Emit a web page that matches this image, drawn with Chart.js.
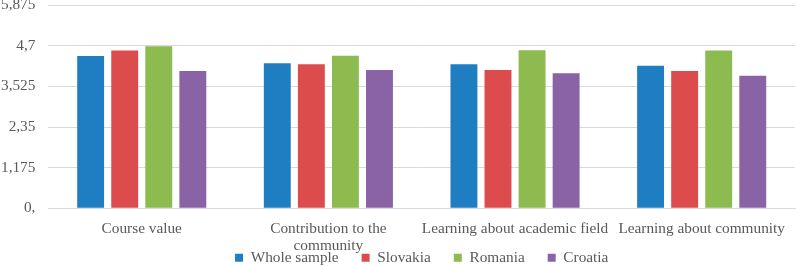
<!DOCTYPE html>
<html>
<head>
<meta charset="utf-8">
<script src="https://cdn.jsdelivr.net/npm/chart.js@4/dist/chart.umd.min.js"></script>
<style>
  html, body { margin: 0; padding: 0; background: #fff; }
  #wrap { width: 796px; height: 266px; position: relative; }
</style>
</head>
<body>
<div id="wrap"><canvas id="chart"></canvas></div>
<script>
// カテゴリと系列
var categories = ["Course value", ["Contribution to the", "community"], "Learning about academic field", "Learning about community"];
var seriesNames = ["Whole sample", "Slovakia", "Romania", "Croatia"];
var wholeSample = [4.40, 4.19, 4.16, 4.12];
var slovakia = [4.56, 4.16, 4.00, 3.97];
var romania = [4.68, 4.41, 4.57, 4.56];
var croatia = [3.97, 4.00, 3.90, 3.83];
// 目盛りラベル（元の図の表記のまま）
var yTickLabels = ["0,", "1,175", "2,35", "3,525", "4,7", "5,875"];

var colors = ["#1f7ec2", "#dd4c4c", "#8dbb4f", "#8a63a6"];
var textColor = "#595959";
var serif = "'Liberation Serif', 'Times New Roman', serif";
var fontSize = 15.3;
var legendPad = 23;

// 凡例：高さを詰めて、プロット領域の中央・下端に置く
var legendFix = {
    id: "legendFix",
    afterInit: function(chart){
        var l = chart.legend;
        var origFit = l.fit;
        l.fit = function(){
            origFit.call(this);
            this.height = 13;
        };
    },
    afterLayout: function(chart){
        var l = chart.legend;
        var d = (chart.chartArea.left + chart.chartArea.right) / 2 - (l.left + l.right) / 2;
        l.left += d;
        l.right += d;
        l.top = 257 - legendPad - 7;
        l.bottom = 266;
    }
};

var ctx = document.getElementById("chart");
var allData = [wholeSample, slovakia, romania, croatia];
var datasets = [];
for (var i = 0; i < seriesNames.length; i++) {
    datasets.push({
        label: seriesNames[i],
        data: allData[i],
        backgroundColor: colors[i],
        borderWidth: 0,
        categoryPercentage: 0.73,
        barPercentage: 0.79
    });
}

new Chart(ctx, {
    type: "bar",
    data: { labels: categories, datasets: datasets },
    plugins: [legendFix],
    options: {
        responsive: true,
        maintainAspectRatio: false,
        animation: false,
        layout: { padding: { top: 5, right: 1, left: -12, bottom: 0 } },
        scales: {
            x: {
                grid: { display: false, drawTicks: false },
                border: { display: true, color: "#d9d9d9", width: 1 },
                ticks: {
                    color: textColor,
                    font: { family: serif, size: fontSize, lineHeight: 1.1 },
                    padding: 12,
                    maxRotation: 0,
                    autoSkip: false
                },
                afterFit: function(scale){
                    scale.paddingLeft = 0;
                    scale.paddingRight = 0;
                    scale.height -= 13;
                }
            },
            y: {
                min: 0,
                max: 5.875,
                grid: { color: "#d9d9d9", drawTicks: false },
                border: { display: false },
                ticks: {
                    stepSize: 1.175,
                    color: textColor,
                    font: { family: serif, size: fontSize, lineHeight: 1 },
                    padding: 13,
                    callback: function(value, index){ return yTickLabels[index]; }
                },
                afterFit: function(scale){
                    scale.paddingTop = 0;
                    scale.paddingBottom = 0;
                }
            }
        },
        plugins: {
            legend: {
                position: "bottom",
                labels: {
                    boxWidth: 8,
                    boxHeight: 8,
                    padding: legendPad,
                    color: textColor,
                    font: { family: serif, size: fontSize }
                }
            },
            tooltip: { enabled: false }
        }
    }
});
</script>
</body>
</html>
